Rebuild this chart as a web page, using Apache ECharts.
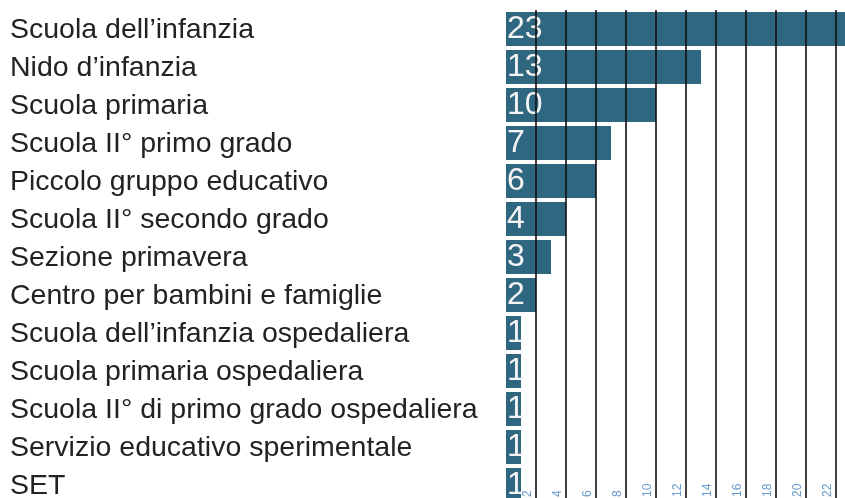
<!DOCTYPE html>
<html>
<head>
<meta charset="utf-8">
<script src="https://cdn.jsdelivr.net/npm/echarts@6/dist/echarts.min.js"></script>
<style>html,body{margin:0;padding:0;background:#fff;}#c{width:845px;height:498px;}</style>
</head>
<body>
<div id="c"></div>
<script>
const categories = [
  "Scuola dell\u2019infanzia",
  "Nido d\u2019infanzia",
  "Scuola primaria",
  "Scuola II\u00b0 primo grado",
  "Piccolo gruppo educativo",
  "Scuola II\u00b0 secondo grado",
  "Sezione primavera",
  "Centro per bambini e famiglie",
  "Scuola dell\u2019infanzia ospedaliera",
  "Scuola primaria ospedaliera",
  "Scuola II\u00b0 di primo grado ospedaliera",
  "Servizio educativo sperimentale",
  "SET"
];
const values = [23, 13, 10, 7, 6, 4, 3, 2, 1, 1, 1, 1, 1];
const xMin = 0, xMax = 23, xInterval = 2;

const chart = echarts.init(document.getElementById('c'), null, {renderer: 'canvas'});
chart.setOption({
  animation: false,
  backgroundColor: '#fff',
  grid: {left: 506, right: -6, top: 10, bottom: -6, containLabel: false, outerBoundsMode: 'none'},
  xAxis: {
    type: 'value', min: xMin, max: xMax, interval: xInterval, z: 5,
    axisLine: {show: false}, axisTick: {show: false},
    splitLine: {show: true, showMinLine: false, showMaxLine: false, lineStyle: {color: '#111', width: 1.6}},
    axisLabel: {
      inside: true, rotate: 90, margin: 7, fontSize: 12, lineHeight: 16, color: '#6b9bcc',
      fontFamily: 'Liberation Sans, Arial, sans-serif',
      showMinLabel: false, showMaxLabel: false,
      formatter: function (v) { return v + '\n '; }
    }
  },
  yAxis: {
    type: 'category', data: categories, inverse: true,
    axisLine: {show: false}, axisTick: {show: false}, splitLine: {show: false},
    axisLabel: {
      align: 'left', margin: 496, fontSize: 28.5, color: '#222',
      fontFamily: 'Liberation Sans, Arial, sans-serif',
      formatter: function (v) { return ' \n' + v; }, lineHeight: 3
    }
  },
  series: [{
    type: 'bar', data: values, barCategoryGap: '10.5%', z: 2,
    itemStyle: {color: '#2f6680'},
    label: {
      show: true, position: 'insideLeft', distance: 1, color: '#f4f4f4',
      fontSize: 32, fontFamily: 'Liberation Sans Narrow, Arial Narrow, Liberation Sans, sans-serif'
    }
  }]
});
</script>
</body>
</html>
